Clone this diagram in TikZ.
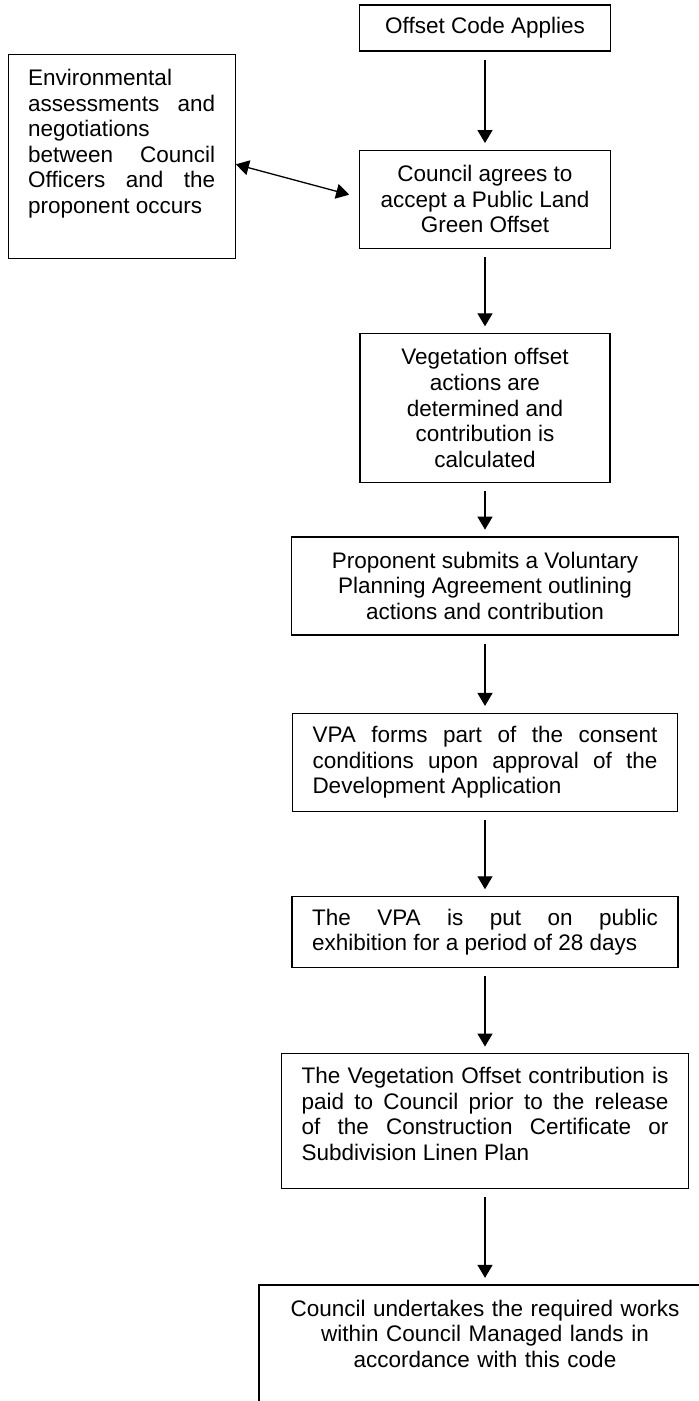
\documentclass[tikz,border=0pt]{standalone}
\usepackage{fontspec}
\setmainfont{Liberation Sans}
\usetikzlibrary{arrows.meta,positioning}
\tolerance=10000
\hbadness=10000
\hyphenpenalty=10000
\exhyphenpenalty=10000

\begin{document}
\begin{tikzpicture}[
    x=1pt,y=1pt,
    box/.style={rectangle,draw,line width=0.65pt,inner xsep=10pt,align=center,
                font={\fontsize{11.25pt}{12.8pt}\selectfont}},
    jbox/.style={box,align=justify},
    topbox/.style={box,inner ysep=7.4pt,text height=8.2pt},
    arrow/.style={-{Triangle[length=6.5pt,width=7.5pt]},line width=0.65pt,
                  shorten <=4pt,shorten >=3.3pt}
]

% Page frame
\useasboundingbox (0,0) rectangle (349.5,-700.5);
\clip (0,0) rectangle (349.5,-700.5);

% Main flow
\node[box,minimum width=125.5pt,minimum height=23pt] (offset) at (242.5,-14) {Offset Code Applies};
\node[box,below=49pt of offset,minimum width=125.5pt,minimum height=49pt] (agree) {Council agrees to\\accept a Public Land\\Green Offset};
\node[box,below=42pt of agree,minimum width=125pt,minimum height=74.5pt] (actions) {Vegetation offset\\actions are\\determined and\\contribution is\\calculated};
\node[box,below=26.5pt of actions,minimum width=193.5pt,minimum height=49pt] (submit) {Proponent submits a Voluntary\\Planning Agreement outlining\\actions and contribution};
\node[jbox,below=38.5pt of submit,text width=172.5pt,minimum height=49pt] (consent) {VPA forms part of the consent\linebreak conditions upon approval of the\linebreak Development Application};
\node[jbox,below=42pt of consent,text width=173pt,minimum height=35.5pt] (exhibit) {The VPA is put on public\linebreak exhibition for a period of 28 days};
\node[jbox,below=42.5pt of exhibit,text width=183.5pt,minimum height=67.5pt,text depth=46pt] (payment) {The Vegetation Offset contribution is\linebreak paid to Council prior to the release\linebreak of the Construction Certificate or\linebreak Subdivision Linen Plan};
\node[topbox,below=47.5pt of payment,text width=206pt,text depth=77pt] (works) {Council undertakes the required works\\within Council Managed lands in\\accordance with this code};

% Side box
\node[topbox,align=justify,left=61.5pt of agree,yshift=21.5pt,text width=93.5pt,text depth=79pt] (assess) {Environmental\\assessments and\linebreak negotiations\\between Council\linebreak Officers and the\linebreak proponent occurs};

% Arrows
\draw[arrow] (offset) -- (agree);
\draw[arrow] (agree) -- (actions);
\draw[arrow] (actions) -- (submit);
\draw[arrow] (submit) -- (consent);
\draw[arrow] (consent) -- (exhibit);
\draw[arrow] (exhibit) -- (payment);
\draw[arrow] (payment) -- (works);
\draw[arrow,{Triangle[length=6.5pt,width=7.5pt]}-{Triangle[length=6.5pt,width=7.5pt]},shorten <=0pt,shorten >=5pt]
    ([yshift=-4pt]assess.east) -- ([yshift=1pt]agree.west);

\end{tikzpicture}
\end{document}
